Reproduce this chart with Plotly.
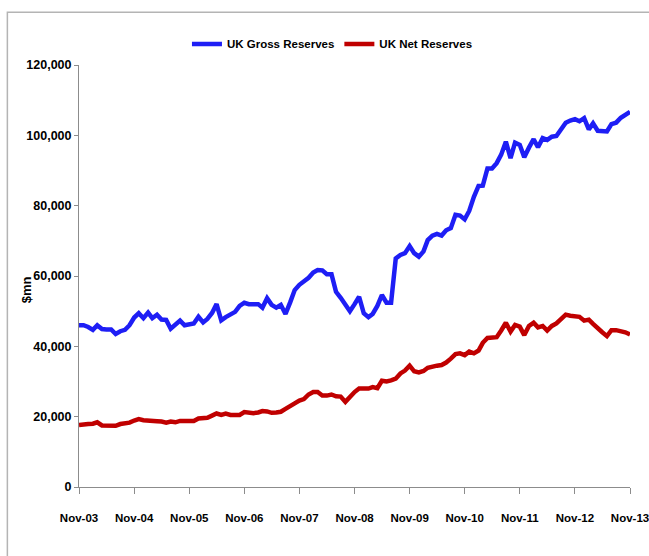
import pandas as pd
import plotly.graph_objects as go

start_month = "2003-11-01"
n_months = 121

gross_reserves = [
    46000, 46000, 45500, 44700, 46000, 44900, 44800, 44800, 43500, 44300, 44700, 46000,
    48200, 49400, 48000, 49600, 48000, 49000, 47600, 47500, 45000, 46000, 47300, 46000,
    46200, 46500, 48400, 46800, 47800, 49500, 52000, 47400, 48300, 49000, 49800, 51500,
    52400, 52000, 52000, 52000, 51000, 53700, 51800, 51000, 51800, 49200, 52500, 56000,
    57500, 58300, 59500, 61000, 61700, 61600, 60500, 60500, 55500, 53800, 52000, 50000,
    52000, 54100, 49400, 48300, 49200, 51500, 54600, 52400, 52400, 65000, 66000, 66500,
    68500, 66500, 65500, 67000, 70200, 71500, 72000, 71500, 73000, 73600, 77400, 77200,
    76100, 78500, 82500, 85600, 85700, 90600, 90600, 92100, 94500, 98200, 93500, 97900,
    97300, 93800, 96500, 98900, 96600, 99200, 98700, 99600, 99800, 101500, 103600, 104200,
    104600, 104000, 104900, 101700, 103400, 101300, 101200, 101100, 103200, 103600, 105000, 105800,
    106700,
]

net_reserves = [
    17600, 17900, 17900, 18000, 18400, 17500, 17400, 17400, 17400, 17900, 18100, 18300,
    18900, 19300, 19000, 18800, 18800, 18700, 18600, 18300, 18600, 18400, 18800, 18800,
    18800, 18800, 19500, 19700, 19700, 20300, 20900, 20500, 20900, 20500, 20500, 20500,
    21300, 21000, 21000, 21200, 21600, 21500, 21100, 21200, 21400, 22200, 23200, 23800,
    24600, 25000, 26300, 27000, 27000, 26000, 26000, 26300, 25800, 25700, 24200, 25800,
    27000, 28000, 28000, 28000, 28400, 28100, 30200, 30000, 30300, 30800, 32300, 33100,
    34500, 32900, 32600, 33000, 33900, 34300, 34500, 34700, 35400, 36500, 37800, 38000,
    37500, 38500, 38000, 38800, 41000, 42400, 42600, 42600, 44500, 46700, 44200, 46100,
    45600, 43200, 45800, 46700, 45400, 45800, 44500, 45800, 46500, 47600, 49000, 48700,
    48600, 48400, 47300, 47600, 46400, 45000, 44000, 42900, 44600, 44600, 44400, 44000,
    43400,
]

x_tick_labels = ["Nov-03", "Nov-04", "Nov-05", "Nov-06", "Nov-07", "Nov-08",
                 "Nov-09", "Nov-10", "Nov-11", "Nov-12", "Nov-13"]
y_ticks = [0, 20000, 40000, 60000, 80000, 100000, 120000]

series_names = ["UK Gross Reserves", "UK Net Reserves"]
series_colors = ["#1E1EF5", "#C00000"]

months = pd.date_range(start_month, periods=n_months, freq="MS")
tick_dates = pd.date_range(start_month, periods=len(x_tick_labels), freq="12MS")

FONT = "Liberation Sans Narrow, Arial Narrow, Liberation Sans, Arial, sans-serif"

fig = go.Figure()
for name, vals, col in zip(series_names, [gross_reserves, net_reserves], series_colors):
    fig.add_trace(go.Scatter(x=months, y=vals, mode="lines", name=name,
                             line=dict(color=col, width=4.5)))

fig.update_layout(
    width=649, height=556,
    margin=dict(l=79, r=19, t=65, b=69, autoexpand=False),
    paper_bgcolor="white", plot_bgcolor="white",
    font=dict(family=FONT, color="black"),
    showlegend=True,
    legend=dict(orientation="h", x=0.46, xanchor="center", y=1.05, yanchor="middle",
                font=dict(size=11.5, family=FONT, weight="bold"), itemwidth=30,
                tracegroupgap=0, bgcolor="rgba(0,0,0,0)"),
    xaxis=dict(
        range=[months[0], months[-1]],
        tickvals=tick_dates, ticktext=x_tick_labels,
        showgrid=False, zeroline=False,
        showline=True, linecolor="#8c8c8c", linewidth=1,
        ticks="outside", ticklen=6, tickcolor="#8c8c8c",
        tickfont=dict(size=11.5, family=FONT, weight="bold"),
        ticklabelstandoff=14, ticklabeloverflow="allow",
    ),
    yaxis=dict(
        range=[0, 120000],
        tickvals=y_ticks, tickformat=",d",
        showgrid=False, zeroline=False,
        showline=True, linecolor="#8c8c8c", linewidth=1,
        ticks="outside", ticklen=4, tickcolor="#8c8c8c",
        tickfont=dict(size=12.5, family=FONT, weight="bold"),
    ),
    shapes=[dict(type="rect", xref="paper", yref="paper",
                 x0=-0.130, x1=1.2, y0=-0.3, y1=1.125,
                 line=dict(color="#b4b4b4", width=1.5), fillcolor="rgba(0,0,0,0)",
                 layer="below")],
    annotations=[dict(text="$mn", xref="paper", yref="paper", x=-0.111, y=0.467,
                      textangle=-90, showarrow=False,
                      font=dict(size=13, family=FONT, weight="bold"))],
)

fig.write_html("out.html", config={"displayModeBar": False},
               post_script="document.body.style.margin='0px';")
